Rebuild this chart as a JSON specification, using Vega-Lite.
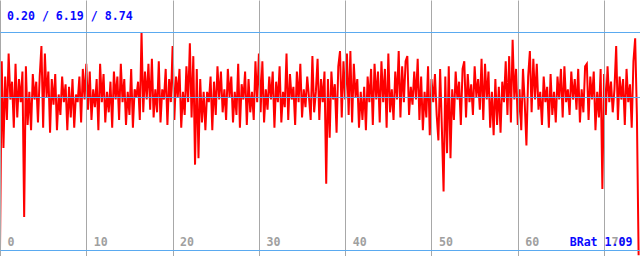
{
  "$schema": "https://vega.github.io/schema/vega-lite/v6.json",
  "width": 640,
  "height": 256,
  "autosize": "none",
  "padding": 0,
  "background": "#ffffff",
  "config": {"view": {"stroke": null}},
  "title": {"text": "0.20 / 6.19 / 8.74", "anchor": "start", "frame": "group", "offset": -32, "baseline": "alphabetic", "dx": 7, "font": "DejaVu Sans Mono", "fontSize": 11.6, "fontWeight": "bold", "color": "#0a0aff"},
  "data": {"values": [
{"t":0.0,"v":0.2},{"t":0.2,"v":7.6},{"t":0.4,"v":4.2},{"t":0.6,"v":7.0},{"t":0.8,"v":5.3},{"t":1.0,"v":7.9},{"t":1.2,"v":6.1},{"t":1.4,"v":6.8},{"t":1.6,"v":5.0},{"t":1.8,"v":7.5},
{"t":2.0,"v":5.4},{"t":2.2,"v":6.9},{"t":2.4,"v":6.0},{"t":2.6,"v":7.2},{"t":2.8,"v":1.5},{"t":3.0,"v":7.4},{"t":3.2,"v":5.1},{"t":3.4,"v":6.4},{"t":3.6,"v":4.9},{"t":3.8,"v":7.1},
{"t":4.0,"v":6.1},{"t":4.2,"v":6.8},{"t":4.4,"v":5.2},{"t":4.6,"v":7.0},{"t":4.8,"v":8.2},{"t":5.0,"v":5.0},{"t":5.2,"v":7.9},{"t":5.4,"v":6.2},{"t":5.6,"v":7.2},{"t":5.8,"v":4.8},
{"t":6.0,"v":6.9},{"t":6.2,"v":5.9},{"t":6.4,"v":7.1},{"t":6.6,"v":4.9},{"t":6.8,"v":6.3},{"t":7.0,"v":5.5},{"t":7.2,"v":7.0},{"t":7.4,"v":6.0},{"t":7.6,"v":6.7},{"t":7.8,"v":4.9},
{"t":8.0,"v":6.6},{"t":8.2,"v":5.4},{"t":8.4,"v":6.9},{"t":8.6,"v":5.0},{"t":8.8,"v":6.3},{"t":9.0,"v":6.0},{"t":9.2,"v":7.0},{"t":9.4,"v":5.2},{"t":9.6,"v":7.3},{"t":9.8,"v":6.1},
{"t":10.0,"v":7.5},{"t":10.2,"v":5.7},{"t":10.4,"v":7.2},{"t":10.6,"v":5.3},{"t":10.8,"v":6.5},{"t":11.0,"v":5.8},{"t":11.2,"v":6.9},{"t":11.4,"v":4.9},{"t":11.6,"v":7.5},{"t":11.8,"v":6.0},
{"t":12.0,"v":7.1},{"t":12.2,"v":5.2},{"t":12.4,"v":6.4},{"t":12.6,"v":5.6},{"t":12.8,"v":6.8},{"t":13.0,"v":5.0},{"t":13.2,"v":7.2},{"t":13.4,"v":6.1},{"t":13.6,"v":7.0},{"t":13.8,"v":5.3},
{"t":14.0,"v":7.5},{"t":14.2,"v":6.0},{"t":14.4,"v":6.9},{"t":14.6,"v":5.1},{"t":14.8,"v":6.4},{"t":15.0,"v":5.5},{"t":15.2,"v":7.3},{"t":15.4,"v":5.0},{"t":15.6,"v":6.5},{"t":15.8,"v":6.2},
{"t":16.0,"v":6.8},{"t":16.2,"v":5.3},{"t":16.4,"v":8.74},{"t":16.6,"v":5.6},{"t":16.8,"v":7.2},{"t":17.0,"v":6.1},{"t":17.2,"v":7.5},{"t":17.4,"v":5.7},{"t":17.6,"v":7.7},{"t":17.8,"v":5.4},
{"t":18.0,"v":6.5},{"t":18.2,"v":5.6},{"t":18.4,"v":7.6},{"t":18.6,"v":5.2},{"t":18.8,"v":6.5},{"t":19.0,"v":6.1},{"t":19.2,"v":7.3},{"t":19.4,"v":5.1},{"t":19.6,"v":6.9},{"t":19.8,"v":6.0},
{"t":20.0,"v":8.2},{"t":20.2,"v":5.3},{"t":20.4,"v":7.0},{"t":20.6,"v":6.2},{"t":20.8,"v":7.3},{"t":21.0,"v":5.0},{"t":21.2,"v":6.4},{"t":21.4,"v":5.5},{"t":21.6,"v":7.4},{"t":21.8,"v":6.0},
{"t":22.0,"v":8.3},{"t":22.2,"v":5.4},{"t":22.4,"v":7.8},{"t":22.6,"v":3.55},{"t":22.8,"v":7.3},{"t":23.0,"v":3.8},{"t":23.2,"v":6.9},{"t":23.4,"v":5.2},{"t":23.6,"v":6.4},{"t":23.8,"v":4.9},
{"t":24.0,"v":6.4},{"t":24.2,"v":6.0},{"t":24.4,"v":7.0},{"t":24.6,"v":4.9},{"t":24.8,"v":6.8},{"t":25.0,"v":5.5},{"t":25.2,"v":7.4},{"t":25.4,"v":6.1},{"t":25.6,"v":7.2},{"t":25.8,"v":5.6},
{"t":26.0,"v":6.5},{"t":26.2,"v":5.3},{"t":26.4,"v":7.3},{"t":26.6,"v":6.2},{"t":26.8,"v":7.0},{"t":27.0,"v":5.2},{"t":27.2,"v":6.4},{"t":27.4,"v":5.5},{"t":27.6,"v":7.5},{"t":27.8,"v":5.0},
{"t":28.0,"v":6.7},{"t":28.2,"v":6.1},{"t":28.4,"v":7.2},{"t":28.6,"v":5.1},{"t":28.8,"v":6.9},{"t":29.0,"v":5.6},{"t":29.2,"v":6.4},{"t":29.4,"v":5.3},{"t":29.6,"v":7.6},{"t":29.8,"v":6.0},
{"t":30.0,"v":7.9},{"t":30.2,"v":5.6},{"t":30.4,"v":7.6},{"t":30.6,"v":5.2},{"t":30.8,"v":6.5},{"t":31.0,"v":5.7},{"t":31.2,"v":7.0},{"t":31.4,"v":6.1},{"t":31.6,"v":7.2},{"t":31.8,"v":5.0},
{"t":32.0,"v":6.8},{"t":32.2,"v":6.0},{"t":32.4,"v":7.4},{"t":32.6,"v":5.2},{"t":32.8,"v":6.4},{"t":33.0,"v":5.8},{"t":33.2,"v":7.9},{"t":33.4,"v":5.3},{"t":33.6,"v":7.1},{"t":33.8,"v":6.1},
{"t":34.0,"v":6.6},{"t":34.2,"v":5.1},{"t":34.4,"v":7.2},{"t":34.6,"v":6.0},{"t":34.8,"v":7.5},{"t":35.0,"v":5.4},{"t":35.2,"v":6.5},{"t":35.4,"v":5.8},{"t":35.6,"v":7.0},{"t":35.8,"v":6.2},
{"t":36.0,"v":5.3},{"t":36.2,"v":7.8},{"t":36.4,"v":5.6},{"t":36.6,"v":6.4},{"t":36.8,"v":7.7},{"t":37.0,"v":5.3},{"t":37.2,"v":6.9},{"t":37.4,"v":6.0},{"t":37.6,"v":7.2},{"t":37.8,"v":2.8},
{"t":38.0,"v":6.9},{"t":38.2,"v":4.6},{"t":38.4,"v":7.2},{"t":38.6,"v":6.1},{"t":38.8,"v":6.7},{"t":39.0,"v":4.8},{"t":39.2,"v":7.4},{"t":39.4,"v":8.0},{"t":39.6,"v":5.4},{"t":39.8,"v":7.6},
{"t":40.0,"v":6.1},{"t":40.2,"v":7.9},{"t":40.4,"v":5.5},{"t":40.6,"v":8.0},{"t":40.8,"v":5.2},{"t":41.0,"v":7.5},{"t":41.2,"v":6.2},{"t":41.4,"v":6.9},{"t":41.6,"v":5.0},{"t":41.8,"v":6.4},
{"t":42.0,"v":5.3},{"t":42.2,"v":6.6},{"t":42.4,"v":4.9},{"t":42.6,"v":7.0},{"t":42.8,"v":6.0},{"t":43.0,"v":7.3},{"t":43.2,"v":5.1},{"t":43.4,"v":7.5},{"t":43.6,"v":6.1},{"t":43.8,"v":7.2},
{"t":44.0,"v":5.2},{"t":44.2,"v":7.6},{"t":44.4,"v":6.0},{"t":44.6,"v":7.3},{"t":44.8,"v":5.0},{"t":45.0,"v":7.9},{"t":45.2,"v":5.6},{"t":45.4,"v":6.5},{"t":45.6,"v":5.3},{"t":45.8,"v":7.2},
{"t":46.0,"v":6.1},{"t":46.2,"v":8.0},{"t":46.4,"v":5.4},{"t":46.6,"v":7.4},{"t":46.8,"v":6.0},{"t":47.0,"v":7.6},{"t":47.2,"v":7.8},{"t":47.4,"v":5.5},{"t":47.6,"v":6.6},{"t":47.8,"v":5.9},
{"t":48.0,"v":7.2},{"t":48.2,"v":6.1},{"t":48.4,"v":7.7},{"t":48.6,"v":5.3},{"t":48.8,"v":7.0},{"t":49.0,"v":4.9},{"t":49.2,"v":6.4},{"t":49.4,"v":5.4},{"t":49.6,"v":7.4},{"t":49.8,"v":4.7},
{"t":50.0,"v":6.9},{"t":50.2,"v":6.0},{"t":50.4,"v":7.1},{"t":50.6,"v":5.5},{"t":50.8,"v":4.5},{"t":51.0,"v":7.3},{"t":51.2,"v":5.0},{"t":51.4,"v":2.5},{"t":51.6,"v":7.0},{"t":51.8,"v":4.0},
{"t":52.0,"v":7.4},{"t":52.2,"v":3.8},{"t":52.4,"v":6.5},{"t":52.6,"v":5.3},{"t":52.8,"v":7.2},{"t":53.0,"v":6.1},{"t":53.2,"v":6.8},{"t":53.4,"v":5.1},{"t":53.6,"v":7.3},{"t":53.8,"v":7.6},
{"t":54.0,"v":5.4},{"t":54.2,"v":7.1},{"t":54.4,"v":6.0},{"t":54.6,"v":6.7},{"t":54.8,"v":5.5},{"t":55.0,"v":7.4},{"t":55.2,"v":6.2},{"t":55.4,"v":6.9},{"t":55.6,"v":5.7},{"t":55.8,"v":7.7},
{"t":56.0,"v":5.3},{"t":56.2,"v":7.5},{"t":56.4,"v":6.1},{"t":56.6,"v":7.2},{"t":56.8,"v":5.0},{"t":57.0,"v":6.4},{"t":57.2,"v":4.7},{"t":57.4,"v":6.9},{"t":57.6,"v":5.1},{"t":57.8,"v":6.6},
{"t":58.0,"v":4.8},{"t":58.2,"v":6.8},{"t":58.4,"v":6.0},{"t":58.6,"v":7.6},{"t":58.8,"v":5.5},{"t":59.0,"v":7.8},{"t":59.2,"v":5.2},{"t":59.4,"v":8.44},{"t":59.6,"v":6.1},{"t":59.8,"v":7.3},
{"t":60.0,"v":5.1},{"t":60.2,"v":6.5},{"t":60.4,"v":4.9},{"t":60.6,"v":7.3},{"t":60.8,"v":6.0},{"t":61.0,"v":4.3},{"t":61.2,"v":7.0},{"t":61.4,"v":8.0},{"t":61.6,"v":5.6},{"t":61.8,"v":7.7},
{"t":62.0,"v":6.1},{"t":62.2,"v":7.5},{"t":62.4,"v":5.7},{"t":62.6,"v":6.4},{"t":62.8,"v":5.1},{"t":63.0,"v":7.0},{"t":63.2,"v":6.0},{"t":63.4,"v":6.6},{"t":63.6,"v":5.0},{"t":63.8,"v":7.1},
{"t":64.0,"v":5.5},{"t":64.2,"v":6.4},{"t":64.4,"v":5.2},{"t":64.6,"v":7.0},{"t":64.8,"v":6.1},{"t":65.0,"v":7.3},{"t":65.2,"v":5.4},{"t":65.4,"v":7.4},{"t":65.6,"v":6.0},{"t":65.8,"v":6.5},
{"t":66.0,"v":5.5},{"t":66.2,"v":7.2},{"t":66.4,"v":6.1},{"t":66.6,"v":6.9},{"t":66.8,"v":5.7},{"t":67.0,"v":7.3},{"t":67.2,"v":5.2},{"t":67.4,"v":6.5},{"t":67.6,"v":5.6},{"t":67.8,"v":7.4},
{"t":68.0,"v":7.5},{"t":68.2,"v":5.3},{"t":68.4,"v":7.0},{"t":68.6,"v":6.1},{"t":68.8,"v":7.2},{"t":69.0,"v":4.9},{"t":69.2,"v":6.4},{"t":69.4,"v":5.4},{"t":69.6,"v":7.3},{"t":69.8,"v":2.6},
{"t":70.0,"v":7.1},{"t":70.2,"v":5.5},{"t":70.4,"v":7.4},{"t":70.6,"v":6.0},{"t":70.8,"v":6.8},{"t":71.0,"v":5.6},{"t":71.2,"v":6.5},{"t":71.4,"v":8.2},{"t":71.6,"v":5.3},{"t":71.8,"v":7.0},
{"t":72.0,"v":6.1},{"t":72.2,"v":6.9},{"t":72.4,"v":5.1},{"t":72.6,"v":7.3},{"t":72.8,"v":6.0},{"t":73.0,"v":6.7},{"t":73.2,"v":5.0},{"t":73.4,"v":7.6},{"t":73.6,"v":8.5},{"t":73.8,"v":5.5},{"t":74.0,"v":0.0}
  ]},
  "mark": {"type": "line", "color": "#ff0000", "strokeWidth": 2, "clip": true, "interpolate": "linear"},
  "encoding": {
    "x": {"field": "t", "type": "quantitative", "scale": {"domain": [0, 74.16], "nice": false, "zero": false},
      "axis": {"values": [0, 10, 20, 30, 40, 50, 60, 70], "grid": true, "gridColor": "#a8a8a8", "gridOpacity": 1, "gridWidth": 1, "domain": false, "ticks": false,
        "labelPadding": -11, "labelBaseline": "alphabetic", "labelAlign": "left", "labelOffset": 7, "labelFlush": false, "labelOverlap": false,
        "labelFont": "DejaVu Sans Mono", "labelFontSize": 11.6, "labelFontWeight": "bold", "labelColor": "#a0a0a0",
        "title": "BRat 1.09", "titleX": 632, "titleY": -11, "titleAlign": "right", "titleBaseline": "alphabetic", "titleAnchor": null,
        "titleFont": "DejaVu Sans Mono", "titleFontSize": 11.6, "titleFontWeight": "bold", "titleColor": "#0a0aff", "zindex": 1}},
    "y": {"field": "v", "type": "quantitative", "scale": {"domain": [-0.03, 10], "nice": false, "zero": false},
      "axis": {"values": [0.2, 6.19, 8.74], "grid": true, "gridColor": "#5aaaf0", "gridOpacity": 1, "gridWidth": 1, "domain": false, "ticks": false, "labels": false, "title": null, "zindex": 1}}
  }
}
